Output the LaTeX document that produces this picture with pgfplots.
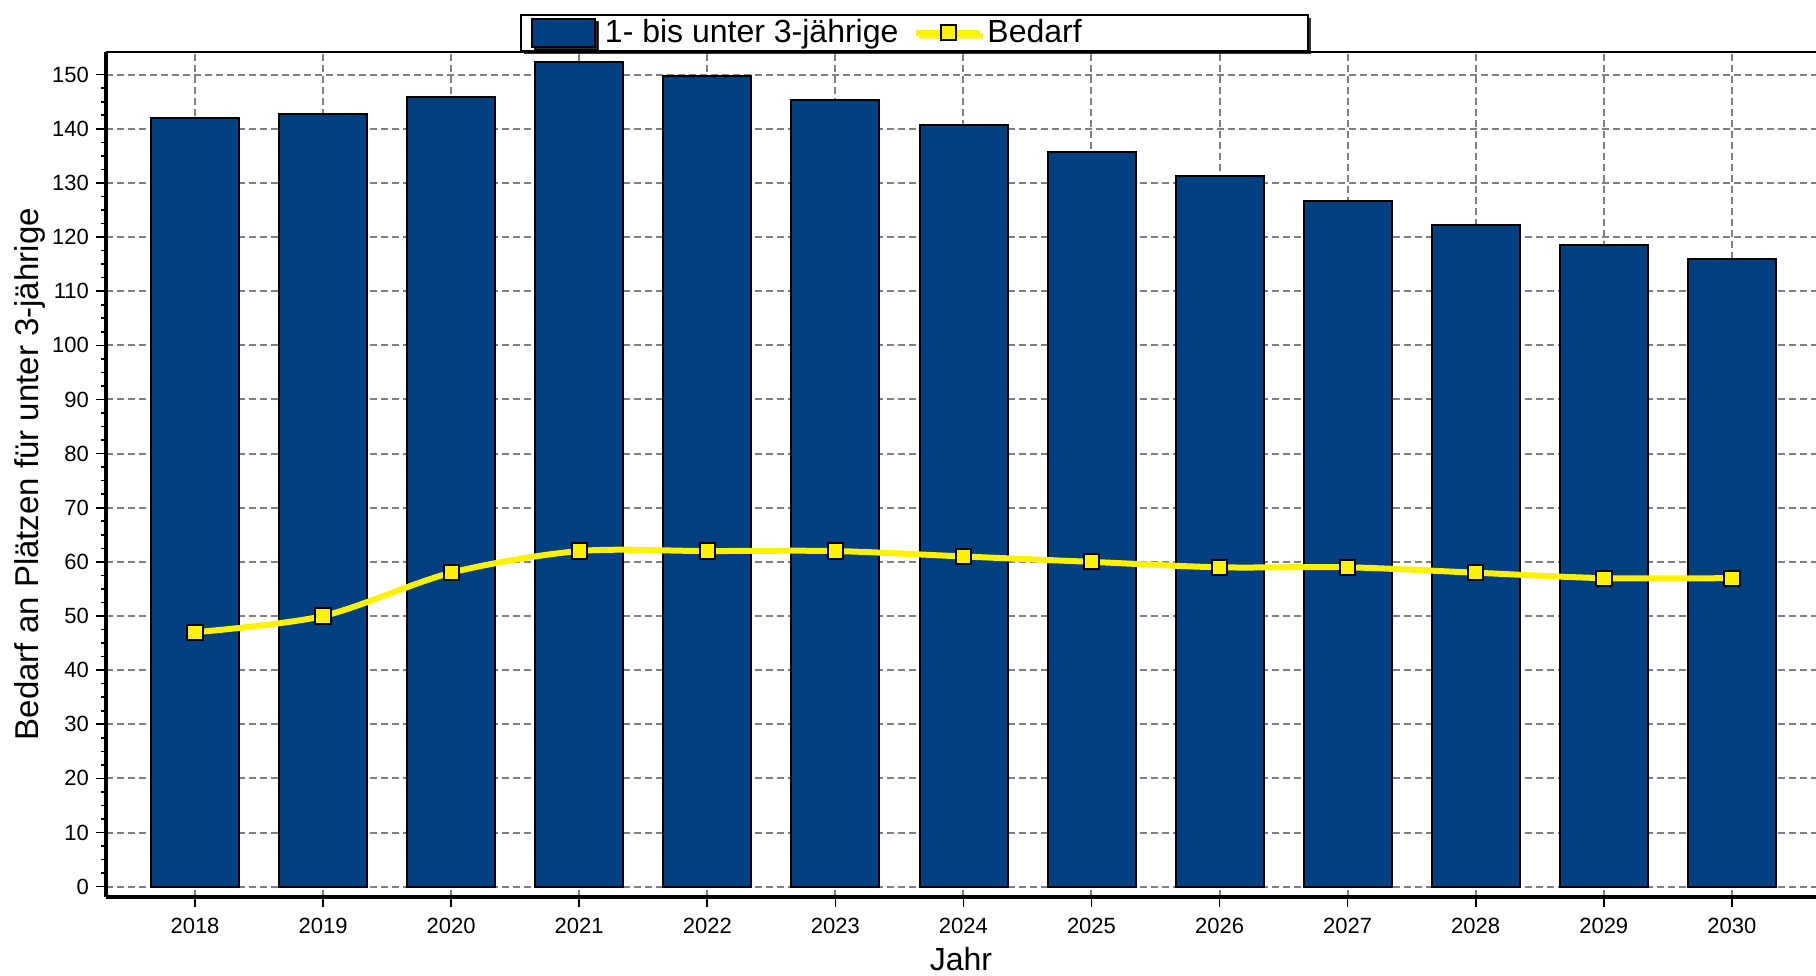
\documentclass[border=0pt]{standalone}
\usepackage{fontspec}
\setmainfont{Liberation Sans}
\usepackage{pgfplots}
\pgfplotsset{compat=1.18}
\usetikzlibrary{shadows,calc}
\definecolor{barblue}{RGB}{0,64,128}
\definecolor{gridgray}{RGB}{128,128,128}
\pgfplotsset{
  mybarlegend/.style={legend image code/.code={\draw[##1, line width=1pt] (0pt,-7pt) rectangle (31.5pt,7pt);}},
  mylinelegend/.style={legend image code/.code={\draw[mark repeat=2,mark phase=2,##1] plot coordinates {(0pt,0pt) (16pt,0pt) (32pt,0pt)};}},
}
\begin{document}
\begin{tikzpicture}
\begin{axis}[
  width=855pt, height=422.5pt, scale only axis,
  xmin=2017.305, xmax=2030.656, ymin=-1.85, ymax=154.25,
  clip=false,
  axis x line*=bottom, axis y line*=left,
  axis line style={line width=2pt},
  xtick={2018,...,2030}, ytick={0,10,...,150},
  minor x tick num=3, minor y tick num=3,
  tick align=outside,
  major tick length=5pt, minor tick length=2.5pt,
  every tick/.style={black, line width=0.8pt},
  grid=major,
  major grid style={gridgray, line width=1pt, dash pattern=on 3.5pt off 2pt},
  tick label style={font=\fontsize{11}{13}\selectfont},
  /pgf/number format/assume math mode=true,
  x tick label style={/pgf/number format/1000 sep=, yshift=-2.3pt},
  xlabel={Jahr}, ylabel={Bedarf an Plätzen für unter 3-jährige},
  every axis x label/.style={at={(axis description cs:0.5,-0.0738)}, anchor=center, font=\fontsize{16}{19}\selectfont},
  every axis y label/.style={at={(axis description cs:-0.0445,0.5)}, rotate=90, anchor=center, font=\fontsize{16.5}{19}\selectfont},
  legend columns=2,
  legend style={at={(axis description cs:0.2421,1)}, anchor=south west,
    draw=black, line width=1pt, fill=white,
    drop shadow={shadow xshift=1.5pt, shadow yshift=-1.5pt, fill=black, opacity=0.8},
    font=\fontsize{16}{19}\selectfont,
    inner xsep=5pt, inner ysep=1.5pt,
    nodes={inner sep=0pt},
    /tikz/column 1/.style={column sep=4.5pt},
    /tikz/column 2/.style={column sep=7.5pt},
    /tikz/column 3/.style={column sep=2pt}},
]
\addplot[ybar, bar width=44pt, bar shift=0pt, fill=barblue, draw=black, line width=1pt, mybarlegend]
  coordinates {
  (2018,142.0) (2019,142.8) (2020,145.8) (2021,152.3) (2022,149.7) (2023,145.4) (2024,140.7)
  (2025,135.8) (2026,131.2) (2027,126.6) (2028,122.3) (2029,118.5) (2030,115.9)};
\addlegendentry{1- bis unter 3-jährige}
\addplot[color=yellow, line width=3pt, smooth, mark=square*, mark size=3.8pt,
  mark options={fill=yellow, draw=black, line width=1pt, solid}, mylinelegend]
  coordinates {
  (2018,47) (2019,50) (2020,58) (2021,62) (2022,62) (2023,62) (2024,61)
  (2025,60) (2026,59) (2027,59) (2028,58) (2029,57) (2030,57)};
\addlegendentry{\makebox[155.5pt][l]{Bedarf}}
\draw[line width=1pt] (rel axis cs:0,1) -- (rel axis cs:1,1);
\end{axis}
\pgfresetboundingbox
\path ($(current axis.south west)+(-53pt,-39.15pt)$) rectangle ($(current axis.north east)+(0pt,25.85pt)$);
\end{tikzpicture}
\end{document}
